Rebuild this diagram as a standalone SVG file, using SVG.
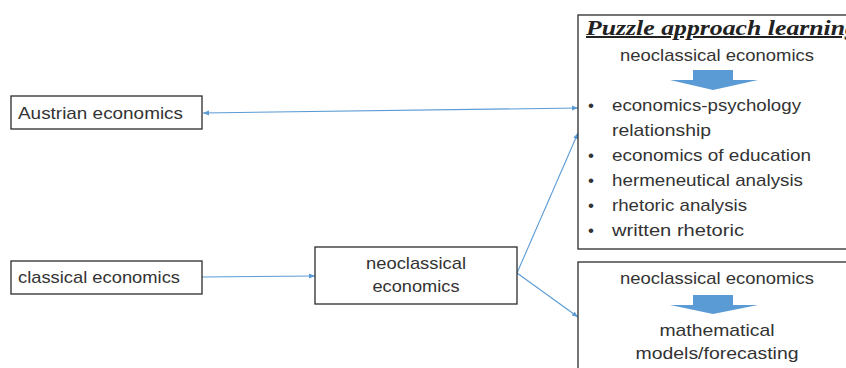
<svg xmlns="http://www.w3.org/2000/svg" width="846" height="368" viewBox="0 0 846 368">
<style>
.box{fill:#fff;stroke:#2b2b2b;stroke-width:1.3}
.t{font-family:"Liberation Sans",Arial,sans-serif;font-size:17px;fill:#333}
.c{text-anchor:middle}
.ttl{font-family:"Liberation Serif","DejaVu Serif",serif;font-size:20px;font-weight:bold;font-style:italic;text-decoration:underline;fill:#222}
.blk{fill:#5b9bd5}
.ln{stroke:#5b9bd5;stroke-width:1.1;fill:none}
</style>
<defs>
<marker id="ah" viewBox="0 0 6 6" refX="6" refY="3" markerWidth="6" markerHeight="6" orient="auto-start-reverse" markerUnits="userSpaceOnUse">
<path d="M0,0.5 L6,3 L0,5.5 z" fill="#5b9bd5"/>
</marker>
</defs>
<rect width="846" height="368" fill="#fff"/>
<g id="connectors">
<line class="ln" x1="203" y1="113" x2="578" y2="108" marker-start="url(#ah)" marker-end="url(#ah)"/>
<line class="ln" x1="202" y1="277" x2="315" y2="276" marker-end="url(#ah)"/>
<line class="ln" x1="517" y1="273" x2="578" y2="133" marker-end="url(#ah)"/>
<line class="ln" x1="517" y1="273" x2="578" y2="317" marker-end="url(#ah)"/>
</g>
<g id="austrian">
<rect class="box" x="11" y="96" width="191" height="33"/>
<text class="t" x="18" y="119" textLength="165" lengthAdjust="spacingAndGlyphs">Austrian economics</text>
</g>
<g id="classical">
<rect class="box" x="11" y="261" width="191" height="33"/>
<text class="t" x="18" y="283" textLength="162" lengthAdjust="spacingAndGlyphs">classical economics</text>
</g>
<g id="neoclassical">
<rect class="box" x="315" y="247" width="202" height="57"/>
<text class="t c" x="416" y="269" textLength="100" lengthAdjust="spacingAndGlyphs">neoclassical</text>
<text class="t c" x="416" y="292" textLength="87" lengthAdjust="spacingAndGlyphs">economics</text>
</g>
<g id="puzzle">
<rect class="box" x="578" y="15" width="280" height="234"/>
<text class="ttl" x="586" y="35" textLength="272" lengthAdjust="spacingAndGlyphs">Puzzle approach learning</text>
<text class="t c" x="717" y="61" textLength="194" lengthAdjust="spacingAndGlyphs">neoclassical economics</text>
<rect class="blk" x="693" y="70" width="40" height="10"/>
<polygon class="blk" points="670,80 758,80 713,90"/>
<g class="t">
<text x="588" y="111">•</text><text x="612" y="111" textLength="189" lengthAdjust="spacingAndGlyphs">economics-psychology</text>
<text x="612" y="136" textLength="99" lengthAdjust="spacingAndGlyphs">relationship</text>
<text x="588" y="161">•</text><text x="612" y="161" textLength="199" lengthAdjust="spacingAndGlyphs">economics of education</text>
<text x="588" y="186">•</text><text x="612" y="186" textLength="191" lengthAdjust="spacingAndGlyphs">hermeneutical analysis</text>
<text x="588" y="211">•</text><text x="612" y="211" textLength="135" lengthAdjust="spacingAndGlyphs">rhetoric analysis</text>
<text x="588" y="236">•</text><text x="612" y="236" textLength="132" lengthAdjust="spacingAndGlyphs">written rhetoric</text>
</g>
</g>
<g id="math">
<rect class="box" x="578" y="262" width="280" height="120"/>
<text class="t c" x="717" y="284" textLength="194" lengthAdjust="spacingAndGlyphs">neoclassical economics</text>
<rect class="blk" x="693" y="295" width="40" height="10"/>
<polygon class="blk" points="670,305 758,305 713,314"/>
<text class="t c" x="717" y="336" textLength="115" lengthAdjust="spacingAndGlyphs">mathematical</text>
<text class="t c" x="717" y="359" textLength="163" lengthAdjust="spacingAndGlyphs">models/forecasting</text>
</g>
</svg>
